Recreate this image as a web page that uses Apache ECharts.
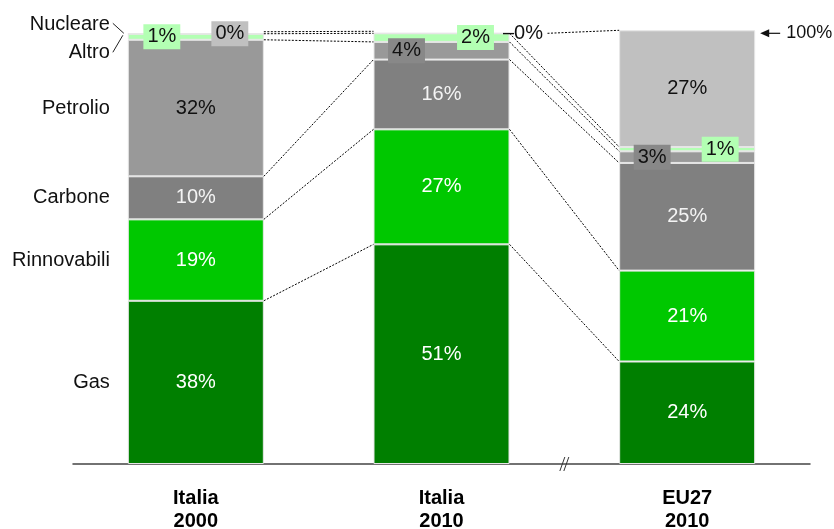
<!DOCTYPE html>
<html lang="it">
<head>
<meta charset="UTF-8">
<title>Mix energetico</title>
<script src="https://cdn.jsdelivr.net/npm/echarts@6/dist/echarts.min.js"></script>
<style>
  html, body { margin: 0; padding: 0; background: #fff; }
  #main { width: 834px; height: 529px; }
</style>
</head>
<body>
<div id="main"></div>
<script>
    // categorie sull'asse x
    var categories = ['Italia\n2000', 'Italia\n2010', 'EU27\n2010']
    // fonti, dal basso verso l'alto
    var sources = ['Gas', 'Rinnovabili', 'Carbone', 'Petrolio', 'Altro', 'Nucleare']
    // quote % (stimate dal grafico)
    var gas = [37.9, 51.0, 23.8]
    var rinnovabili = [18.9, 26.7, 21.1]
    var carbone = [10.0, 16.2, 25.0]
    var petrolio = [31.7, 4.1, 2.7]
    var altro = [1.4, 2.0, 1.0]
    var nucleare = [0, 0, 27.1]
    var values = [gas, rinnovabili, carbone, petrolio, altro, nucleare]
    var fullMark = 100

    var FONT = "'Liberation Sans', Arial, sans-serif"
    var BAR_W = 136
    var colors = ['#007f00', '#00c800', '#808080', '#999999', '#b3ffb3', '#c0c0c0']
    var textColors = ['#ffffff', '#ffffff', '#f4f4f4', '#111111', '#111111', '#111111']

    // etichette piccole con riquadro colorato
    var boxLabels = {
        Petrolio: [null, { offset: [-35, 0], bg: '#888888' }, { offset: [-35, 0], bg: '#888888' }],
        Altro: [{ offset: [-34, 0], bg: '#b3ffb3' }, { offset: [34, 0], bg: '#b3ffb3' }, { offset: [33, 0], bg: '#b3ffb3' }],
        Nucleare: [{ offset: [34, 0], bg: '#c0c0c0' }, { outside: true }, null]
    }

    function pct(v) {
        return Math.round(v) + '%'
    }

    var series = sources.map(function (name, s) {
        var data = values[s].map(function (v, i) {
            var item = { value: v }
            var b = boxLabels[name] && boxLabels[name][i]
            if (b && b.outside) {
                item.label = {
                    position: 'right', distance: 0, offset: [-7, 0],
                    formatter: '\u2013' + pct(v), color: '#111'
                }
            } else if (b) {
                item.label = {
                    offset: b.offset, backgroundColor: b.bg,
                    padding: [3, 4, 2, 4], color: '#111'
                }
            }
            return item
        })
        return {
            name: name,
            type: 'bar',
            stack: 'mix',
            barWidth: BAR_W,
            data: data,
            itemStyle: { color: colors[s], borderColor: '#e6e6e6', borderWidth: 1 },
            label: {
                show: true,
                position: 'inside',
                color: textColors[s],
                fontSize: 20,
                fontFamily: FONT,
                formatter: function (p) { return pct(p.value) }
            }
        }
    })

    // linee di collegamento, nomi a sinistra, 100%, interruzione asse
    function renderExtras(params, api) {
        if (params.dataIndex !== 0) return
        var half = BAR_W / 2
        var children = []
        var dotted = { stroke: '#000', lineWidth: 1, lineDash: [2, 1.5] }
        var cum = categories.map(function (c, i) {
            var acc = 0
            return values.map(function (v) { return acc += v[i] })
        })
        for (var i = 0; i < categories.length - 1; i++) {
            for (var k = 0; k < sources.length; k++) {
                var a = api.coord([i, cum[i][k]])
                var b = api.coord([i + 1, cum[i + 1][k]])
                var x1 = a[0] + half
                var dy = 0
                if (i === 1 && k === sources.length - 1) x1 += 38 // dopo "0%"
                if (i === 0 && k === sources.length - 1) dy = -2 // separa le due linee sovrapposte
                children.push({
                    type: 'line',
                    shape: { x1: x1, y1: a[1] + dy, x2: b[0] - half, y2: b[1] + dy },
                    style: dotted
                })
            }
        }
        // nomi delle fonti accanto alla prima barra
        var p0 = api.coord([0, 0])
        var left = p0[0] - half
        var top = api.coord([0, fullMark])[1]
        sources.forEach(function (name, k) {
            var y
            if (name === 'Altro') y = top + 19
            else if (name === 'Nucleare') y = top - 9
            else y = api.coord([0, cum[0][k] - values[k][0] / 2])[1]
            children.push({
                type: 'text',
                style: {
                    x: left - 18, y: y, text: name, align: 'right', verticalAlign: 'middle',
                    fill: '#111', font: '20px ' + FONT
                }
            })
        })
        children.push({ type: 'line', shape: { x1: left - 15, y1: top - 10, x2: left - 4, y2: top }, style: { stroke: '#222', lineWidth: 1 } })
        children.push({ type: 'line', shape: { x1: left - 15, y1: top + 19, x2: left - 5, y2: top + 2 }, style: { stroke: '#222', lineWidth: 1 } })

        // freccia 100%
        var last = categories.length - 1
        var pe = api.coord([last, fullMark])
        var ax = pe[0] + half + 5
        children.push({ type: 'line', shape: { x1: ax + 6, y1: pe[1], x2: ax + 20, y2: pe[1] }, style: { stroke: '#111', lineWidth: 1.2 } })
        children.push({ type: 'polygon', shape: { points: [[ax, pe[1]], [ax + 9, pe[1] - 4], [ax + 9, pe[1] + 4]] }, style: { fill: '#111' } })
        children.push({
            type: 'text',
            style: { x: ax + 26, y: pe[1], text: fullMark + '%', verticalAlign: 'middle', fill: '#111', font: '18px ' + FONT }
        })

        // interruzione dell'asse tra Italia e EU27
        var mx = (api.coord([1, 0])[0] + api.coord([2, 0])[0]) / 2
        ;[-2, 2].forEach(function (d) {
            children.push({
                type: 'line',
                shape: { x1: mx + d - 2.5, y1: p0[1] + 7, x2: mx + d + 2.5, y2: p0[1] - 7 },
                style: { stroke: '#333', lineWidth: 1 }
            })
        })
        return { type: 'group', children: children }
    }

    series.push({
        type: 'custom',
        renderItem: renderExtras,
        data: [[0, 0]],
        clip: false,
        silent: true,
        z: 5
    })

    var mCharts = echarts.init(document.getElementById('main'))
    var option = {
        animation: false,
        grid: { left: 73, right: 24, top: 29, bottom: 65, containLabel: false, outerBoundsMode: 'none' },
        xAxis: {
            type: 'category',
            data: categories,
            axisTick: { show: false },
            axisLine: { lineStyle: { color: '#444', width: 1.5 } },
            axisLabel: {
                color: '#000', fontSize: 20, fontWeight: 'bold', fontFamily: FONT,
                lineHeight: 23, margin: 23
            }
        },
        yAxis: { type: 'value', min: 0, max: 101, show: false },
        series: series
    }
    mCharts.setOption(option)
</script>
</body>
</html>
